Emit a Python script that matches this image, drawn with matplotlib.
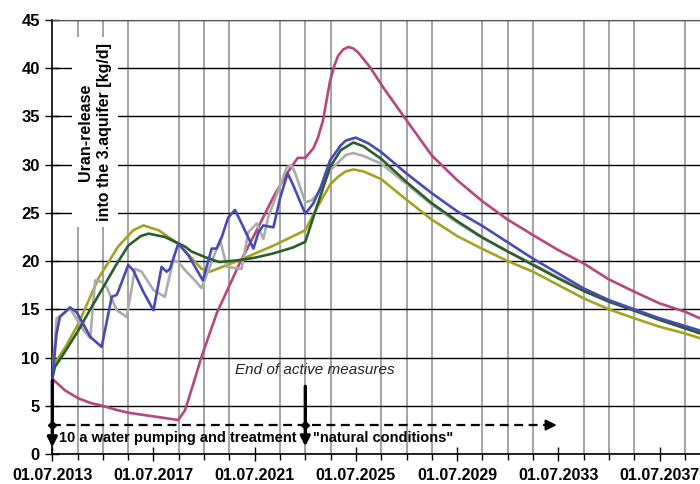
import matplotlib.pyplot as plt
from matplotlib.ticker import FixedLocator

plt.rcParams['font.family'] = ['Liberation Sans', 'DejaVu Sans']

# Zeitachse in Dezimaljahren (01.07.JJJJ = JJJJ.5), Werte in kg/d
t_magenta = [2013.5, 2014.0, 2014.53, 2015.0, 2015.52, 2016.0, 2016.5, 2017.5, 2018.48, 2018.75,
             2019.1, 2019.4, 2020.0, 2020.9, 2021.58, 2022.24, 2022.77, 2023.2, 2023.5, 2023.82,
             2024.0, 2024.2, 2024.35, 2024.48, 2024.65, 2024.8, 2025.0, 2025.2, 2025.4, 2025.6,
             2026.06, 2026.58, 2027.5, 2028.5, 2029.5, 2030.5, 2031.5, 2032.5, 2033.5, 2034.5,
             2035.5, 2036.5, 2037.5, 2038.5, 2039.1]
v_magenta = [7.8, 6.6, 5.77, 5.3, 4.97, 4.6, 4.28, 3.9, 3.52, 4.56,
             7.5, 10.1, 14.6, 19.75, 23.2, 26.65, 29.07, 30.7, 30.7, 31.7,
             32.8, 34.6, 36.8, 38.7, 40.3, 41.3, 41.95, 42.2, 42.05, 41.6,
             40.1, 38.0, 34.6, 30.95, 28.4, 26.2, 24.3, 22.7, 21.14, 19.76,
             18.1, 16.83, 15.62, 14.76, 14.07]

t_blue = [2013.5, 2013.67, 2013.8, 2014.2, 2014.46, 2014.7, 2015.0, 2015.45, 2015.85, 2016.05,
          2016.2, 2016.5, 2016.7, 2017.1, 2017.5, 2017.82, 2018.02, 2018.15, 2018.48, 2018.88,
          2019.1, 2019.45, 2019.8, 2020.0, 2020.2, 2020.45, 2020.72, 2021.0, 2021.45, 2021.65,
          2021.84, 2022.24, 2022.5, 2022.8, 2023.0, 2023.5, 2023.82, 2024.1, 2024.48, 2024.9,
          2025.1, 2025.5, 2026.0, 2026.5, 2027.5, 2028.5, 2029.5, 2030.5, 2031.5, 2032.5,
          2033.5, 2034.5, 2035.5, 2036.5, 2037.5, 2038.5, 2039.1]
v_blue = [7.8, 12.5, 14.2, 15.2, 14.7, 13.6, 12.15, 11.1, 16.3, 16.5,
          17.5, 19.6, 19.05, 16.8, 14.9, 19.4, 18.9, 19.2, 21.8, 20.6,
          19.6, 18.0, 21.3, 21.3, 22.5, 24.5, 25.3, 23.8, 21.3, 23.0,
          23.7, 23.5, 26.5, 29.1, 28.0, 24.9, 26.0, 27.6, 30.45, 32.0,
          32.5, 32.8, 32.2, 31.3, 29.08, 27.04, 25.17, 23.64, 21.95, 20.25,
          18.72, 17.17, 15.96, 15.0, 14.07, 13.28, 12.8]

t_green = [2013.5, 2013.6, 2014.0, 2014.53, 2015.0, 2015.45, 2016.0, 2016.5, 2017.0, 2017.3,
           2017.95, 2018.75, 2019.0, 2019.55, 2020.1, 2020.9, 2021.5, 2022.24, 2023.0, 2023.5,
           2023.95, 2024.48, 2024.9, 2025.4, 2025.8, 2026.5, 2027.5, 2028.5, 2029.5, 2030.5,
           2031.5, 2032.5, 2033.5, 2034.5, 2035.5, 2036.5, 2037.5, 2038.5, 2039.1]
v_green = [7.8, 9.0, 10.6, 12.8, 15.0, 17.0, 19.5, 21.6, 22.6, 22.85,
           22.5, 21.5, 21.0, 20.4, 19.9, 20.1, 20.35, 20.8, 21.4, 22.0,
           25.6, 29.75, 31.5, 32.3, 31.9, 30.6, 28.2, 26.0, 24.15, 22.45,
           21.0, 19.6, 18.2, 16.9, 15.79, 14.86, 13.9, 13.03, 12.5]

t_grey = [2013.5, 2013.67, 2013.85, 2014.2, 2014.73, 2015.0, 2015.19, 2015.45, 2015.65, 2016.05,
          2016.44, 2016.77, 2017.03, 2017.5, 2017.95, 2018.28, 2018.48, 2018.75, 2019.1, 2019.4,
          2020.13, 2020.4, 2020.98, 2021.25, 2021.58, 2021.84, 2022.04, 2022.43, 2022.77, 2022.95,
          2023.09, 2023.5, 2023.75, 2024.0, 2024.48, 2025.1, 2025.4, 2025.8, 2026.5, 2027.5,
          2028.5, 2029.5, 2030.5, 2031.5, 2032.5, 2033.5, 2034.5, 2035.5, 2036.5, 2037.5,
          2038.5, 2039.1]
v_grey = [7.8, 14.05, 14.4, 15.1, 12.85, 12.0, 18.0, 17.85, 17.3, 14.9,
          14.2, 19.2, 18.9, 17.0, 16.3, 20.1, 19.9, 19.05, 18.1, 17.2,
          22.2, 19.4, 19.2, 23.0, 23.9, 22.3, 24.6, 27.3, 29.75, 29.9,
          29.2, 26.1, 26.3, 27.0, 29.4, 31.0, 31.2, 30.9, 30.1, 28.0,
          25.85, 24.0, 22.4, 21.0, 19.7, 18.3, 17.0, 15.9, 14.95, 14.0,
          13.15, 12.65]

t_olive = [2013.5, 2013.6, 2014.0, 2014.53, 2015.32, 2016.1, 2016.7, 2017.1, 2017.7, 2018.48,
           2019.4, 2019.73, 2020.9, 2022.24, 2023.5, 2023.85, 2024.2, 2024.5, 2024.8, 2025.1,
           2025.4, 2025.8, 2026.5, 2027.5, 2028.5, 2029.5, 2030.5, 2031.5, 2032.5, 2033.5,
           2034.5, 2035.5, 2036.5, 2037.5, 2038.5, 2039.1]
v_olive = [7.8, 9.4, 11.0, 13.5, 18.2, 21.5, 23.2, 23.7, 23.2, 21.8,
           19.2, 18.9, 20.1, 21.6, 23.2, 25.0, 26.65, 28.0, 28.75, 29.3,
           29.5, 29.3, 28.5, 26.36, 24.3, 22.6, 21.26, 20.0, 18.9, 17.52,
           16.14, 15.0, 14.07, 13.2, 12.5, 12.0]

x_major = [2013.5, 2017.5, 2021.5, 2025.5, 2029.5, 2033.5, 2037.5]
x_labels = ['01.07.2013', '01.07.2017', '01.07.2021', '01.07.2025',
            '01.07.2029', '01.07.2033', '01.07.2037']
y_ticks = [0, 5, 10, 15, 20, 25, 30, 35, 40, 45]

fig = plt.figure(figsize=(7, 4.84), dpi=100)
ax = fig.add_axes([0.0747, 0.062, 0.9253, 0.8967])

lw = 1.9
ax.plot(t_magenta, v_magenta, color='#b5467f', lw=lw, zorder=4)
ax.plot(t_olive, v_olive, color='#a3a321', lw=lw, zorder=4)
ax.plot(t_grey, v_grey, color='#acacac', lw=lw, zorder=4)
ax.plot(t_green, v_green, color='#2c5e2c', lw=lw, zorder=4)
ax.plot(t_blue, v_blue, color='#4a4ab5', lw=lw, zorder=4)

ax.set_xlim(2013.5, 2039.1)
ax.set_ylim(0, 45)
ax.set_xticks(x_major)
ax.set_xticklabels(x_labels, fontsize=11.5, fontweight='bold')
ax.xaxis.set_minor_locator(FixedLocator([2013.5 + i for i in range(26)]))
ax.set_yticks(y_ticks)
ax.set_yticklabels([str(v) for v in y_ticks], fontsize=12, fontweight='bold')
ax.tick_params(axis='x', which='major', direction='inout', length=10, width=1, pad=5)
ax.tick_params(axis='x', which='minor', direction='out', length=4, width=1)
ax.tick_params(axis='y', which='major', direction='inout', length=10, width=1, pad=4)

# Gitter
ax.grid(axis='x', which='minor', color='#8a8a8a', lw=1.1)
ax.grid(axis='y', which='major', color='black', lw=1.0)
ax.set_axisbelow(True)
ax.spines['right'].set_visible(False)
ax.spines['top'].set_color('#555555')
ax.spines['left'].set_linewidth(1.2)
ax.spines['bottom'].set_linewidth(1.2)

ax.text(0.066, 0.742, 'Uran-release\ninto the 3.aquifer [kg/d]', transform=ax.transAxes,
        rotation=90, ha='center', va='center', fontsize=11.5, fontweight='bold',
        linespacing=1.35, zorder=3,
        bbox=dict(facecolor='white', edgecolor='none', pad=4))

# Pfeile und Beschriftung der Phasen
ax.plot([2013.5, 2033.2], [3, 3], color='black', lw=1.6, ls=(0, (4, 2.5)), zorder=5, clip_on=False)
ax.annotate('', xy=(2033.55, 3), xytext=(2033.0, 3),
            arrowprops=dict(arrowstyle='-|>', color='black', lw=1.5, mutation_scale=16), zorder=5)
ax.plot([2013.5, 2023.5], [3, 3], 'kD', ms=4.5, zorder=6, clip_on=False)
ax.annotate('', xy=(2013.5, 0.4), xytext=(2013.5, 7.9),
            arrowprops=dict(arrowstyle='-|>', color='black', lw=2.4, mutation_scale=14), zorder=6)
ax.annotate('', xy=(2023.5, 0.5), xytext=(2023.5, 7.3),
            arrowprops=dict(arrowstyle='-|>', color='black', lw=2.4, mutation_scale=14), zorder=6)

ax.text(2023.88, 8.7, 'End of active measures', ha='center', va='center', fontsize=11,
        style='italic', color='#222222', zorder=6)
ax.text(2013.77, 1.65, '10 a water pumping and treatment', ha='left', va='center',
        fontsize=10.5, fontweight='bold', zorder=6)
ax.text(2023.81, 1.65, '"natural conditions"', ha='left', va='center',
        fontsize=10.5, fontweight='bold', zorder=6)

plt.savefig('out.png', dpi=100)
